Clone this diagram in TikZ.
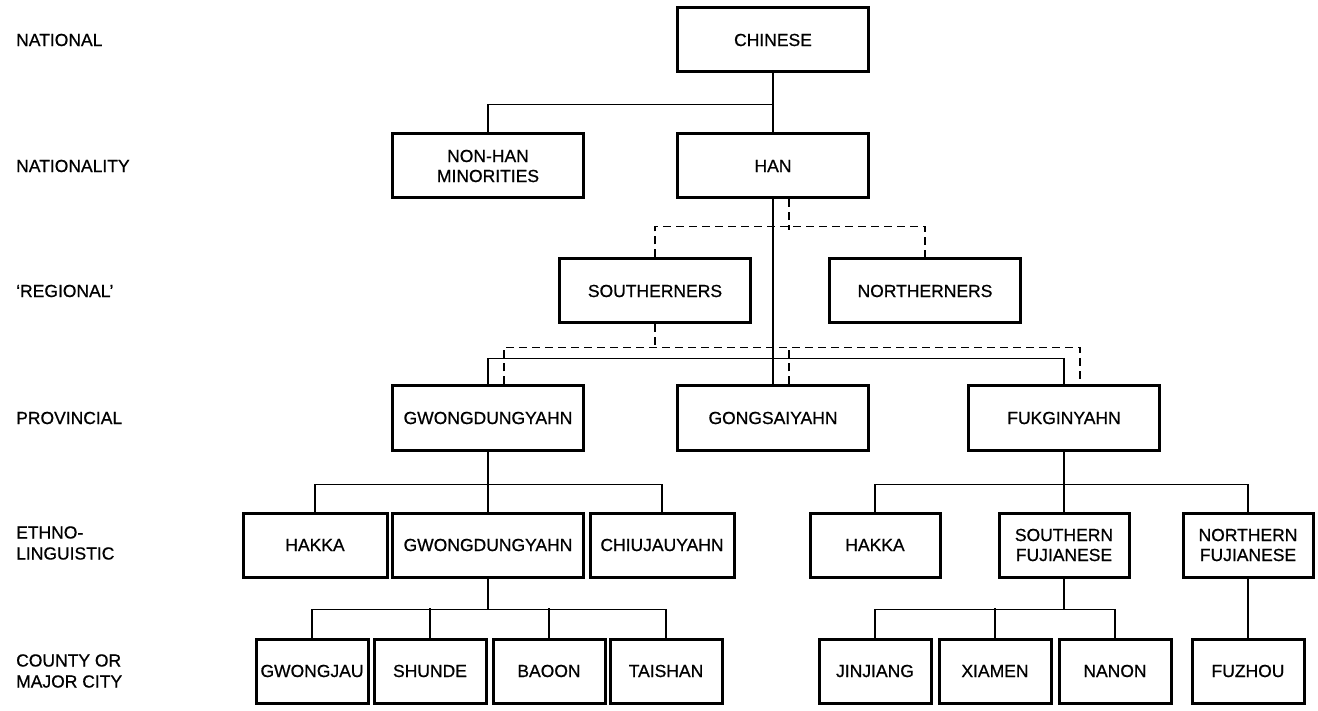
\documentclass[tikz,border=0pt]{standalone}
\usepackage{fontspec}
\setmainfont{Liberation Sans}[FakeBold=0.7]
\begin{document}
\begin{tikzpicture}[x=1pt,y=-1pt,
    box/.style={draw, line width=3pt, minimum height=64pt, inner sep=0pt, align=center,
      font=\fontsize{17.5}{20}\selectfont},
    wide/.style={box, minimum width=191pt},
    mid/.style={box, minimum width=144pt},
    slim/.style={box, minimum width=130pt},
    small/.style={box, minimum width=112pt},
    lab/.style={anchor=west, align=left, inner sep=0pt, font=\fontsize{17.5}{21}\selectfont},
    link/.style={line width=1.5pt},
    dlink/.style={line width=1.5pt, dash pattern=on 8pt off 5pt}]
  \useasboundingbox (0,0) rectangle (1318,711);
  \node[lab] (lnat) at (16,40) {NATIONAL};
  \node[lab] (lnaty) at (16,166) {NATIONALITY};
  \node[lab] (lreg) at (16,291) {‘REGIONAL’};
  \node[lab] (lprov) at (16,418) {PROVINCIAL};
  \node[lab] (leth) at (16,543) {ETHNO-\\LINGUISTIC};
  \node[lab] (lcty) at (16,671) {COUNTY OR\\MAJOR CITY};
  \node[wide] (chinese) at (773,40) {CHINESE};
  \node[wide] (nonhan) at (488,166) {NON-HAN\\MINORITIES};
  \node[wide] (han) at (773,166) {HAN};
  \node[wide] (south) at (655,291) {SOUTHERNERS};
  \node[wide] (north) at (925,291) {NORTHERNERS};
  \node[wide] (gwong) at (488,418) {GWONGDUNGYAHN};
  \node[wide] (gong) at (773,418) {GONGSAIYAHN};
  \node[wide] (fuk) at (1064,418) {FUKGINYAHN};
  \node[mid] (hakkaw) at (315,545) {HAKKA};
  \node[wide] (gwongeth) at (488,545) {GWONGDUNGYAHN};
  \node[mid] (chiu) at (662,545) {CHIUJAUYAHN};
  \node[slim] (hakkae) at (875,545) {HAKKA};
  \node[slim] (sfuj) at (1064,545) {SOUTHERN\\FUJIANESE};
  \node[slim] (nfuj) at (1248,545) {NORTHERN\\FUJIANESE};
  \node[small] (gwongjau) at (312,671) {GWONGJAU};
  \node[small] (shunde) at (430,671) {SHUNDE};
  \node[small] (baoon) at (549,671) {BAOON};
  \node[small] (taishan) at (666,671) {TAISHAN};
  \node[small] (jinjiang) at (875,671) {JINJIANG};
  \node[small] (xiamen) at (995,671) {XIAMEN};
  \node[small] (nanon) at (1115,671) {NANON};
  \node[small] (fuzhou) at (1248,671) {FUZHOU};
  \draw[link] (chinese) -- (han);
  \draw[link] (chinese.south) -- ++(0,31) -| (nonhan.north);
  \draw[link] (han) -- (gong);
  \draw[dlink] ([xshift=16pt]han.south) -- ++(0,31);
  \draw[dlink] (south.north) -- ++(0,-31) -| (north.north);
  \draw[link] (gwong.north) -- ++(0,-26) -| (fuk.north);
  \draw[dlink] (south.south) -- ++(0,25);
  \draw[dlink] ([xshift=16pt]gwong.north) -- ++(0,-37) -| ([xshift=16pt]fuk.north);
  \draw[dlink] ([xshift=16pt]gong.north) -- ++(0,-37);
  \draw[link] (gwong) -- (gwongeth);
  \draw[link] (gwong.south) -- ++(0,33) -| (hakkaw.north);
  \draw[link] (gwong.south) -- ++(0,33) -| (chiu.north);
  \draw[link] (fuk) -- (sfuj);
  \draw[link] (fuk.south) -- ++(0,33) -| (hakkae.north);
  \draw[link] (fuk.south) -- ++(0,33) -| (nfuj.north);
  \draw[link] (gwongeth.south) -- ++(0,31) -| (gwongjau.north);
  \draw[link] (gwongeth.south) -- ++(0,31) -| (taishan.north);
  \draw[link] (shunde.north) -- ++(0,-30);
  \draw[link] (baoon.north) -- ++(0,-30);
  \draw[link] (sfuj.south) -- ++(0,31) -| (jinjiang.north);
  \draw[link] (sfuj.south) -- ++(0,31) -| (nanon.north);
  \draw[link] (xiamen.north) -- ++(0,-30);
  \draw[link] (nfuj) -- (fuzhou);
\end{tikzpicture}
\end{document}
